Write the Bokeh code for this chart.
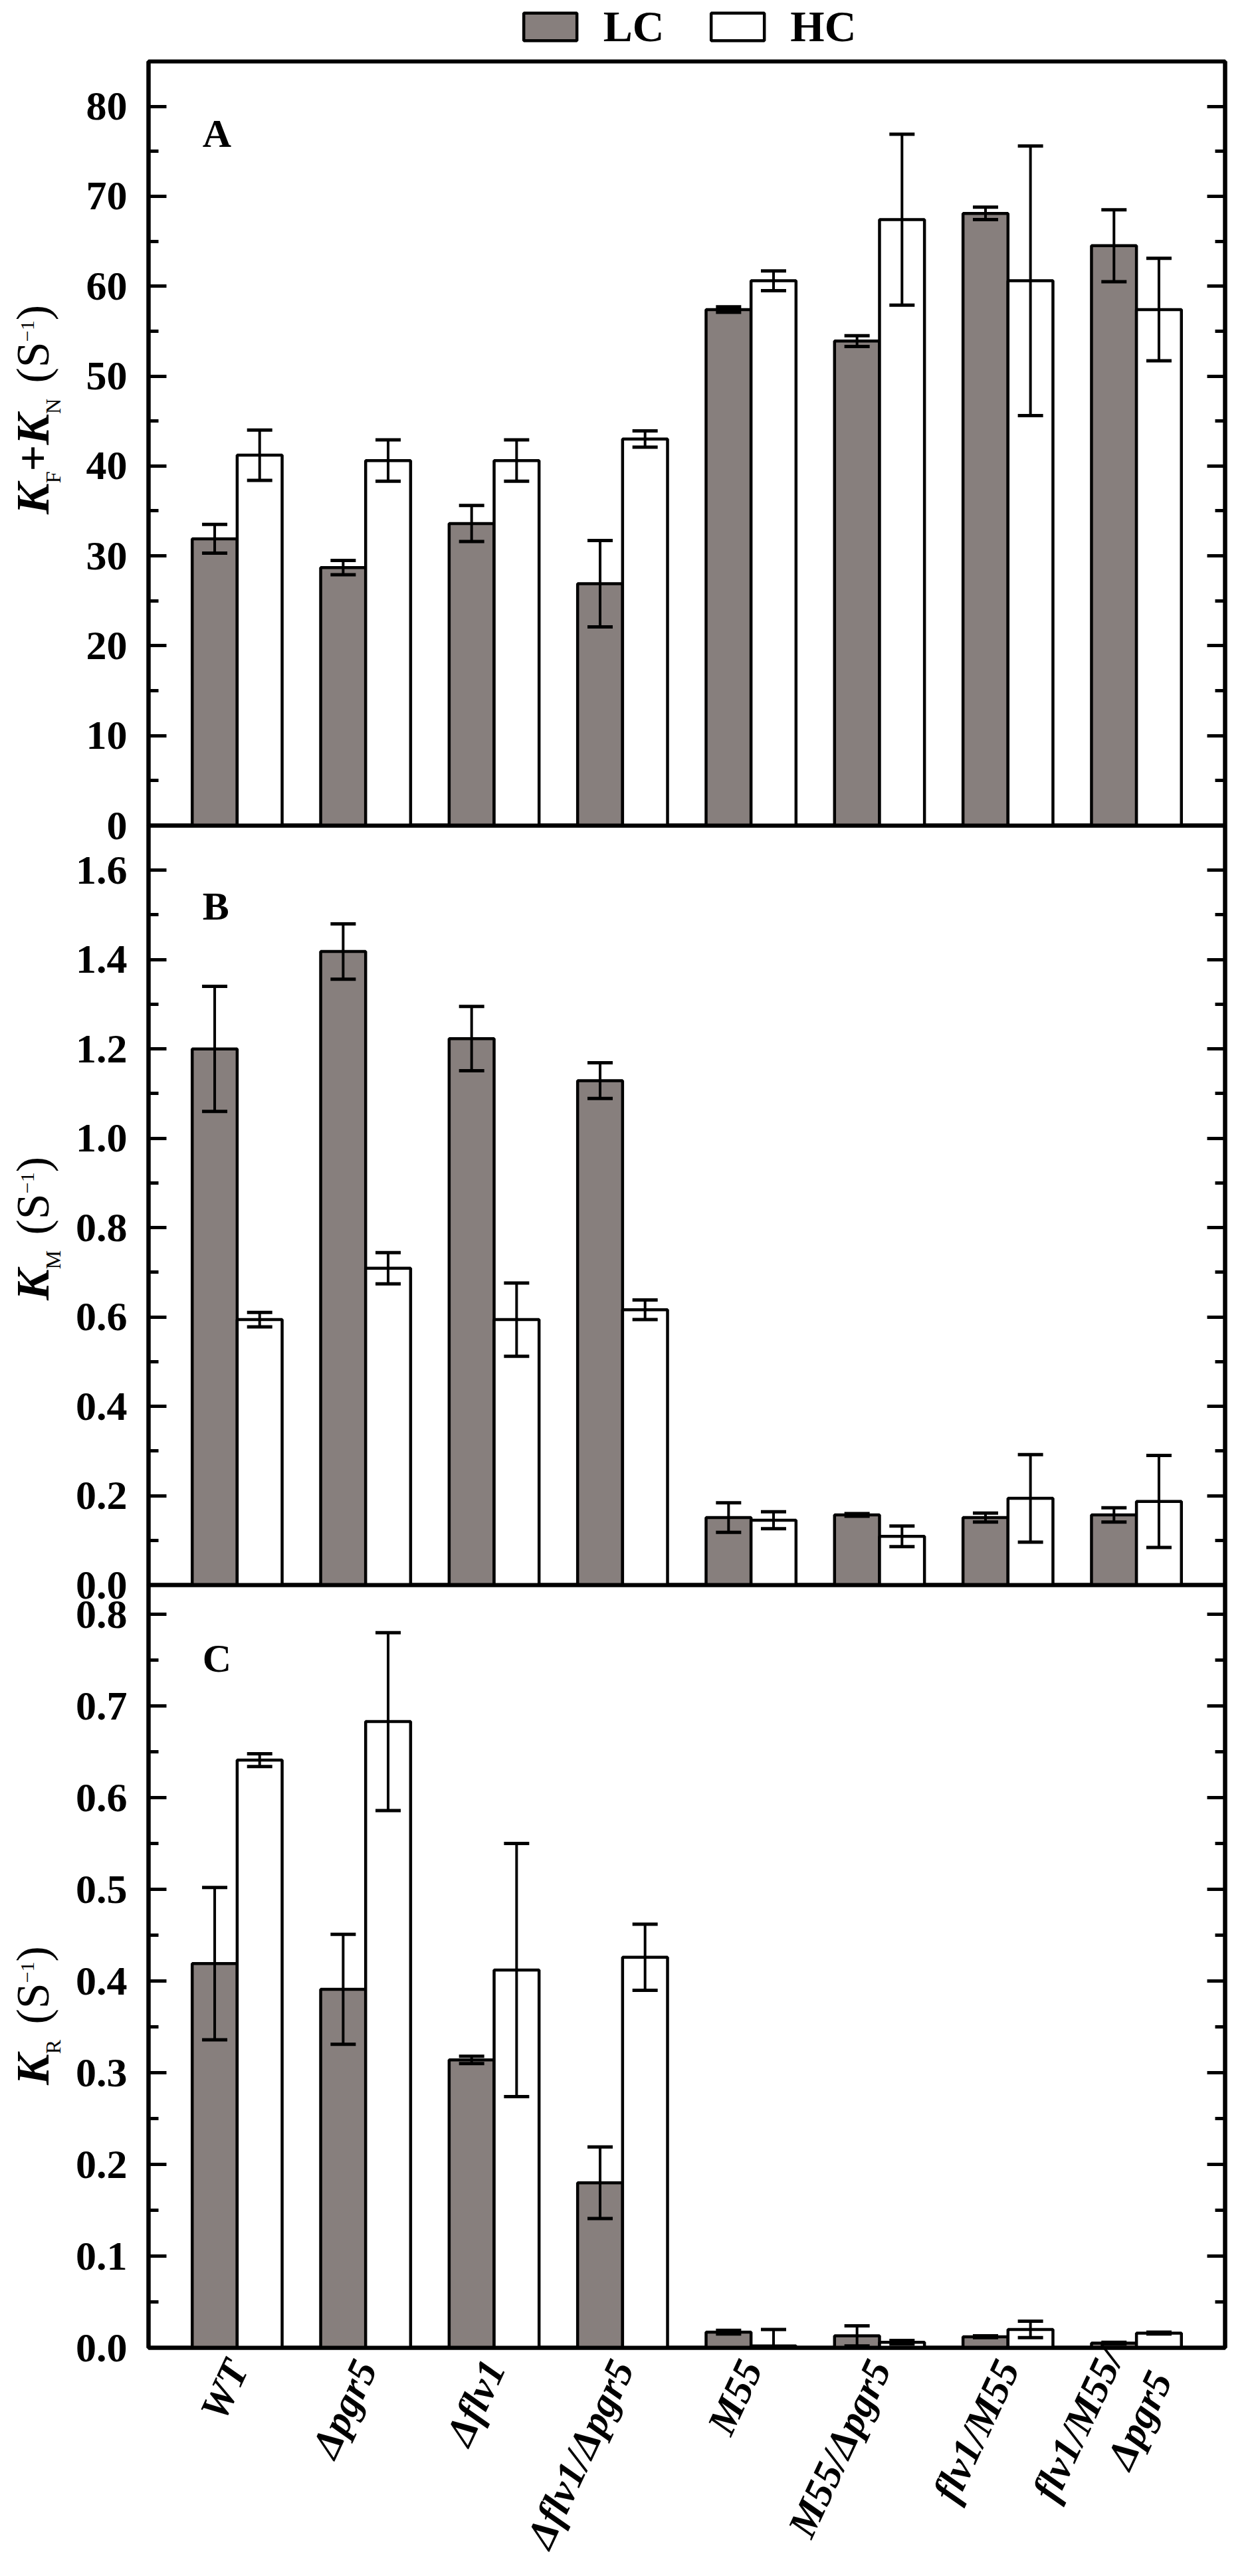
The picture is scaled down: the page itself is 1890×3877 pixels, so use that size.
import math
import numpy as np
from bokeh.plotting import figure
from bokeh.models import (Range1d, LinearAxis, SingleIntervalTicker, FixedTicker,
                          PrintfTickFormatter, BasicTickFormatter, Whisker, TeeHead,
                          ColumnDataSource, Legend, LegendItem, Label, Div)
from bokeh.layouts import column
from bokeh.embed import file_html
from bokeh.resources import INLINE

# ---------------- data ----------------
categories = ["WT", "Δpgr5", "Δflv1", "Δflv1/Δpgr5", "M55", "M55/Δpgr5",
              "flv1/M55", "flv1/M55/\nΔpgr5"]

A_LC = [31.9, 28.7, 33.6, 26.9, 57.4, 53.9, 68.1, 64.5]
A_LC_err = [1.6, 0.8, 2.0, 4.8, 0.3, 0.6, 0.7, 4.0]
A_HC = [41.2, 40.6, 40.6, 43.0, 60.6, 67.4, 60.6, 57.4]
A_HC_err = [2.8, 2.3, 2.3, 0.9, 1.1, 9.5, 15.0, 5.7]

B_LC = [1.200, 1.418, 1.223, 1.129, 0.151, 0.157, 0.151, 0.157]
B_LC_err = [0.140, 0.062, 0.072, 0.040, 0.033, 0.003, 0.010, 0.016]
B_HC = [0.594, 0.709, 0.594, 0.616, 0.145, 0.109, 0.194, 0.187]
B_HC_err = [0.016, 0.035, 0.082, 0.022, 0.019, 0.023, 0.098, 0.103]

C_LC = [0.419, 0.391, 0.314, 0.180, 0.017, 0.013, 0.012, 0.005]
C_LC_err = [0.083, 0.060, 0.004, 0.039, 0.002, 0.011, 0.001, 0.001]
C_HC = [0.641, 0.683, 0.412, 0.426, 0.002, 0.006, 0.020, 0.016]
C_HC_err = [0.007, 0.097, 0.138, 0.036, 0.018, 0.002, 0.009, 0.001]

series_names = ["LC", "HC"]
y_titles = [("K", "F", "+", "K", "N"), ("K", "M"), ("K", "R")]

# ---------------- style / layout ----------------
FONT = "Liberation Serif"
GRAY = "#877f7d"
BAR_W = 0.35
FIG_W = 1874
BORDER_L = 223
BORDER_R = 31
X0, X1 = 0.31, 8.69

xs = np.arange(1, len(categories) + 1)


def make_panel(lc, lc_err, hc, hc_err, ymax, interval, fmt, frame_h, top, bottom,
               letter, letter_y, show_x=False):
    p = figure(width=FIG_W, height=top + frame_h + bottom, x_range=Range1d(X0, X1),
               y_range=Range1d(0, ymax), output_backend="svg", toolbar_location=None,
               min_border_left=BORDER_L, min_border_right=BORDER_R, min_border_top=top,
               min_border_bottom=bottom, x_axis_type=None, y_axis_type=None,
               title=None, background_fill_color=None, border_fill_color=None,
               outline_line_color="black", outline_line_width=6)
    for vals, errs, off, fill in ((lc, lc_err, -BAR_W / 2, GRAY), (hc, hc_err, BAR_W / 2, "white")):
        v = np.array(vals, dtype=float)
        e = np.array(errs, dtype=float)
        src = ColumnDataSource(dict(x=xs + off, top=v, up=v + e, lo=np.maximum(0, v - e)))
        p.vbar(x="x", top="top", width=BAR_W, bottom=0, source=src,
               fill_color=fill, line_color="black", line_width=4.5)
        p.add_layout(Whisker(source=src, base="x", upper="up", lower="lo", line_color="black",
                             line_width=4, level="annotation",
                             upper_head=TeeHead(size=38, line_width=5, line_color="black"),
                             lower_head=TeeHead(size=38, line_width=5, line_color="black")))

    ticker = SingleIntervalTicker(interval=interval, num_minor_ticks=2)
    for side in ("left", "right"):
        ax = LinearAxis(ticker=ticker, formatter=fmt,
                        axis_line_width=6, axis_line_color="black",
                        major_tick_in=27, major_tick_out=0, major_tick_line_width=5,
                        minor_tick_in=15, minor_tick_out=0, minor_tick_line_width=5,
                        major_tick_line_color="black", minor_tick_line_color="black",
                        major_label_text_font=FONT, major_label_text_font_style="bold",
                        major_label_text_font_size="62px", major_label_text_color="black",
                        major_label_standoff=32)
        if side == "right":
            ax.formatter = PrintfTickFormatter(format="")
            ax.major_label_standoff = 0
        p.add_layout(ax, side)

    if show_x:
        p.add_layout(LinearAxis(ticker=FixedTicker(ticks=[int(x) for x in xs]),
                                major_label_overrides={int(x): c for x, c in zip(xs, categories)},
                                major_label_orientation=math.radians(65),
                                major_tick_in=0, major_tick_out=0, minor_tick_line_color=None,
                                axis_line_width=6, axis_line_color="black",
                                major_label_text_font=FONT,
                                major_label_text_font_style="bold italic",
                                major_label_text_font_size="61px",
                                major_label_text_color="black",
                                major_label_standoff=22), "below")

    p.add_layout(Label(x=0.73, y=letter_y, text=letter, text_font=FONT,
                       text_font_style="bold", text_font_size="60px",
                       text_color="black", text_baseline="alphabetic"))
    return p


OV = 40   # overlapping borders so that edge tick labels are not clipped
LEG_H = 80

pA = make_panel(A_LC, A_LC_err, A_HC, A_HC_err, 85.0, 10, BasicTickFormatter(),
                1150, OV, OV, "A", 77.0)
pB = make_panel(B_LC, B_LC_err, B_HC, B_HC_err, 1.70, 0.2, PrintfTickFormatter(format="%.1f"),
                1143, OV, OV, "B", 1.52)
pC = make_panel(C_LC, C_LC_err, C_HC, C_HC_err, 0.832, 0.1, PrintfTickFormatter(format="%.1f"),
                1148, OV, 328, "C", 0.752, show_x=True)

# legend strip on top: swatch renderers are hidden, the legend still draws their glyphs
pL = figure(width=FIG_W, height=LEG_H, x_range=Range1d(0, 1), y_range=Range1d(0, 1),
            output_backend="svg", toolbar_location=None, min_border_left=BORDER_L,
            min_border_right=BORDER_R, min_border_top=0, min_border_bottom=0,
            x_axis_type=None, y_axis_type=None, title=None,
            background_fill_color=None, border_fill_color=None, outline_line_color=None)
lr1 = pL.vbar(x=[0.5], top=[1], width=0.1, fill_color=GRAY, line_color="black", line_width=4.5)
lr2 = pL.vbar(x=[0.5], top=[1], width=0.1, fill_color="white", line_color="black", line_width=4.5)
lr1.visible = False
lr2.visible = False
pL.add_layout(Legend(items=[LegendItem(label=series_names[0], renderers=[lr1]),
                            LegendItem(label=series_names[1], renderers=[lr2])],
                     orientation="horizontal", location="center",
                     glyph_width=100, glyph_height=52, label_standoff=30, spacing=60,
                     padding=2, margin=0, border_line_alpha=0, background_fill_alpha=0,
                     inactive_fill_alpha=0, click_policy="none",
                     label_text_font=FONT, label_text_font_style="bold",
                     label_text_font_size="66px", label_text_color="black"))

pA.margin = (-(LEG_H - (100 - 8 - OV)), 0, 0, 0)
pB.margin = (-2 * OV, 0, 0, 0)
pC.margin = (-2 * OV, 0, 0, 0)

TOTAL_H = LEG_H + pA.height + pA.margin[0] + pB.height + pB.margin[0] + pC.height + pC.margin[0]


# rotated y-axis titles with real sub/superscripts (HTML text)
def title_html(parts, top):
    segs = []
    for i, s in enumerate(parts):
        if s in ("F", "N", "M", "R") and i > 0:
            segs.append(f'<span style="font-size:32px;vertical-align:-18px;line-height:0">{s}</span>')
        elif s == "+":
            segs.append('<b>+</b>')
        else:
            segs.append(f'<b><i>{s}</i></b>')
    segs.append('&#8202;&nbsp;(S<span style="font-size:30px;vertical-align:22px;line-height:0">&minus;1</span>)')
    inner = "".join(segs)
    return (f'<div style="position:absolute;left:15px;top:{top}px;transform:rotate(-90deg);'
            f'transform-origin:0 0;white-space:nowrap;font-family:\'{FONT}\';font-size:70px;'
            f'line-height:70px;color:black;">{inner}</div>')


html = (f'<div style="position:relative;width:110px;height:{TOTAL_H}px;">'
        + title_html(y_titles[0], 774)
        + title_html(y_titles[1], 1957)
        + title_html(y_titles[2], 3138)
        + '</div>')
div = Div(text=html, width=110, height=TOTAL_H, margin=(-TOTAL_H, 0, 0, 0))

layout = column(pL, pA, pB, pC, div)

open("out.html", "w").write(file_html(layout, INLINE))
